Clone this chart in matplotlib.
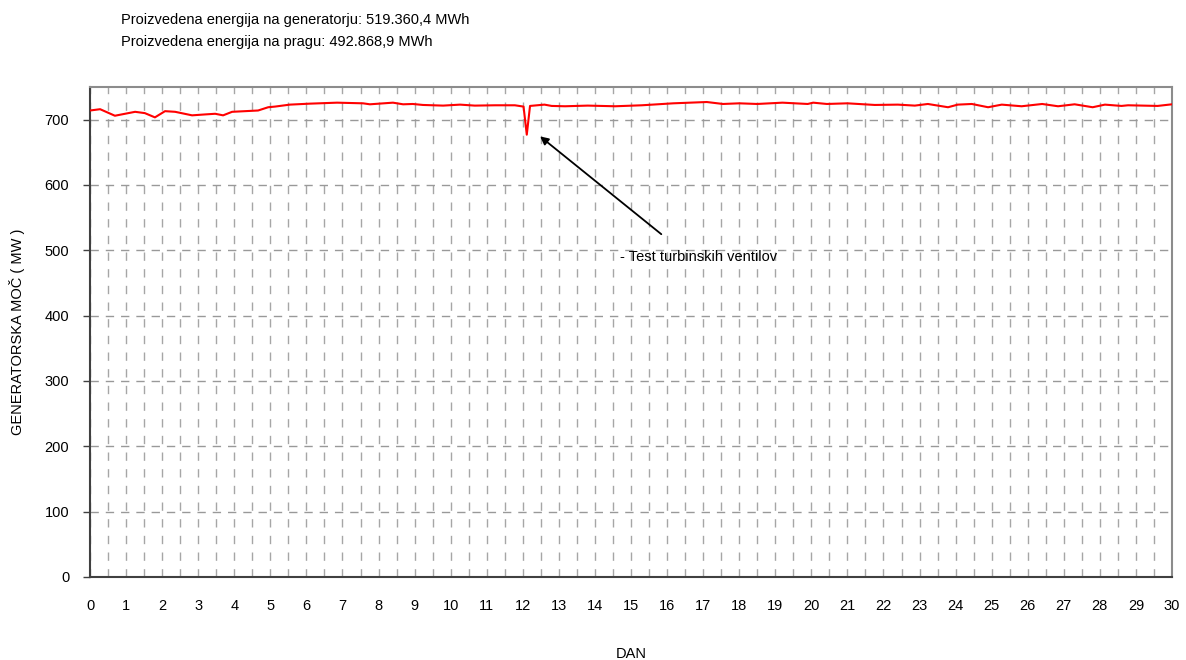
import numpy as np
import matplotlib.pyplot as plt
from matplotlib.ticker import MultipleLocator

plt.rcParams["font.family"] = ["Liberation Sans", "DejaVu Sans"]

# ---------- data ----------
dan = [0.0, 0.28, 0.69, 1.25, 1.52, 1.8, 2.08, 2.36, 2.83, 3.19, 3.47, 3.69,
       3.94, 4.66, 4.94, 5.13, 5.54, 6.1, 6.85, 7.57, 7.76, 8.4, 8.68, 8.95,
       9.23, 9.79, 10.26, 10.67, 11.23, 11.78, 12.02, 12.11, 12.2, 12.6, 12.8,
       13.17, 13.8, 14.56, 15.3, 16.17, 17.1, 17.55, 18.0, 18.5, 19.2, 19.9,
       20.05, 20.43, 21.0, 21.76, 22.4, 22.87, 23.23, 23.79, 24.06, 24.45,
       24.9, 25.28, 25.83, 26.4, 26.84, 27.3, 27.8, 28.14, 28.6, 28.78, 29.6,
       30.0]
moc = [714, 716, 706, 712, 710, 703.5, 713, 712, 706.6, 708, 709, 706.6,
       712, 714, 719, 720, 723, 724.5, 726, 725, 723.5, 726, 723.5, 724,
       722.5, 721.5, 723, 721.5, 722, 722, 720, 677, 721, 723, 721,
       720.5, 721.5, 720.5, 722, 725, 727, 724, 725, 724, 726, 724,
       726, 724, 725, 722.5, 723, 721.5, 724, 719, 723, 724,
       719, 723, 720.5, 724, 720.5, 723.5, 719, 723, 721, 722, 721,
       723.5]

naslov = ["Proizvedena energija na generatorju: 519.360,4 MWh",
          "Proizvedena energija na pragu: 492.868,9 MWh"]
opomba = "- Test turbinskih ventilov"

# ---------- plot ----------
fig = plt.figure(figsize=(11.86, 6.6), dpi=100)
ax = fig.add_axes([0.0759, 0.1258, 0.9123, 0.7424])

ax.plot(dan, moc, color="#ff0000", linewidth=1.5, zorder=3)

ax.set_xlim(0, 30)
ax.set_ylim(0, 750)
ax.xaxis.set_major_locator(MultipleLocator(1))
ax.xaxis.set_minor_locator(MultipleLocator(0.5))
ax.yaxis.set_major_locator(MultipleLocator(100))

ax.grid(True, which="both", axis="x", color="#a6a6a6", linestyle=(0, (6, 6)),
        linewidth=1)
ax.grid(True, which="major", axis="y", color="#999999", linestyle=(0, (6, 5)),
        linewidth=1)

ax.tick_params(axis="x", which="both", length=0, pad=16, labelsize=10.5)
ax.tick_params(axis="y", length=5, width=1, color="#404040", pad=10,
               labelsize=10.5)

for s in ["left", "bottom"]:
    ax.spines[s].set_color("#404040")
    ax.spines[s].set_linewidth(1.5)
for s in ["top", "right"]:
    ax.spines[s].set_color("#8c8c8c")
    ax.spines[s].set_linewidth(1.5)

ax.set_xlabel("DAN", fontsize=10.5, labelpad=24)
ax.set_ylabel("GENERATORSKA MOČ ( MW )", fontsize=10.5, labelpad=14)

ax.annotate("", xy=(12.42, 677), xytext=(15.9, 522),
            arrowprops=dict(arrowstyle="-|>", color="black", lw=1.3,
                            mutation_scale=12))
ax.text(14.7, 490, opomba, fontsize=10.5, va="center", ha="left")

fig.text(121 / 1186, 1 - 20 / 660, naslov[0], fontsize=10.5, va="center")
fig.text(121 / 1186, 1 - 42 / 660, naslov[1], fontsize=10.5, va="center")

fig.savefig("out.png", dpi=100)
